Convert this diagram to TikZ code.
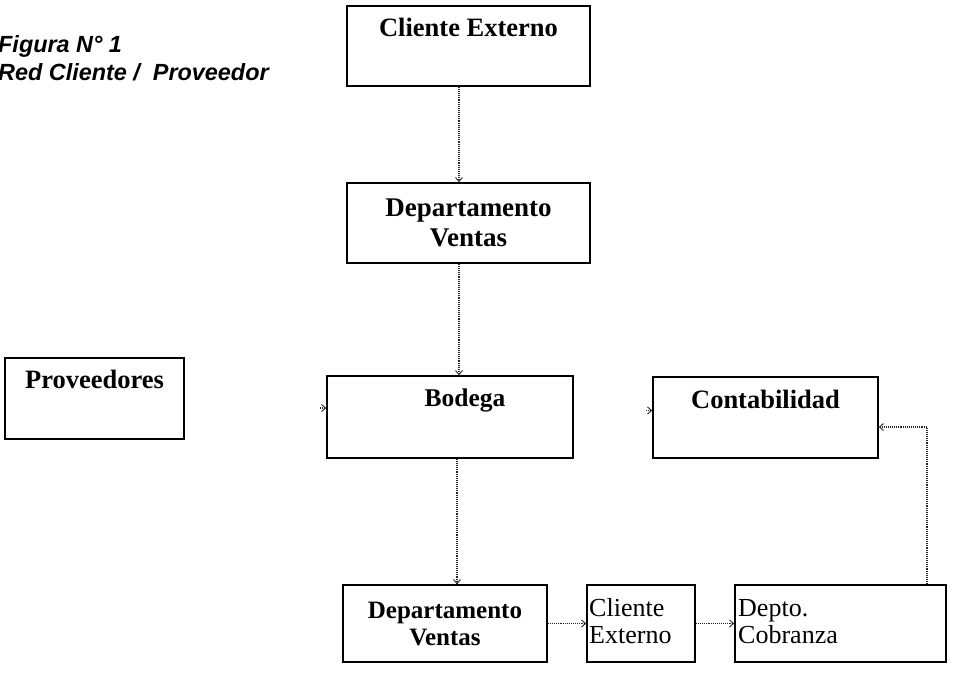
\documentclass[tikz,border=0pt]{standalone}
\usepackage{fontspec}
\setmainfont{Liberation Serif}
\newfontfamily\titlefont{Liberation Sans}
\usetikzlibrary{arrows.meta,calc}
\begin{document}
\begin{tikzpicture}[x=1pt,y=-1pt,
  box/.style={draw=black, line width=1.6pt, rectangle, inner sep=0pt},
  boxtxt/.style={font=\fontsize{26.5}{30}\selectfont\bfseries, align=center, inner sep=0pt, anchor=base},
  smalltxt/.style={font=\fontsize{26}{27}\selectfont, align=left, inner sep=0pt, anchor=base west},
  ttl/.style={font=\titlefont\fontsize{23.4}{28}\selectfont\bfseries\itshape, inner sep=0pt, anchor=base west},
  conn/.style={densely dotted, line width=1.1pt, draw=black!85, -{Straight Barb[length=4pt,width=7pt,line width=0.9pt]}}
]
\useasboundingbox (0,0) rectangle (953,673);
% title
\node[ttl] (t1) at (-2,52) {Figura N° 1};
\node[ttl] (t2) at (-2,80) {Red Cliente /\ \ Proveedor};
% boxes
\node[box, minimum width=243pt, minimum height=80pt] (ce1) at (468.5,46) {};
\node[boxtxt] (ce1t) at (468.5,36) {Cliente Externo};
\node[box, minimum width=243pt, minimum height=80pt, font=\fontsize{27}{30}\selectfont\bfseries, align=center] (dv1) at (468.5,223) {Departamento\\Ventas};
\node[box, minimum width=179pt, minimum height=81pt] (prov) at (94.5,398.5) {};
\node[boxtxt] (provt) at (94.5,388) {Proveedores};
\node[box, minimum width=246pt, minimum height=82pt] (bod) at (450,417) {};
\node[boxtxt, font=\fontsize{25.5}{28}\selectfont\bfseries] (bodt) at (465,406) {Bodega};
\node[box, minimum width=225pt, minimum height=81pt] (cont) at (765.5,417.5) {};
\node[boxtxt] (contt) at (765.5,408) {Contabilidad};
\node[box, minimum width=204pt, minimum height=77pt, font=\fontsize{25}{27}\selectfont\bfseries, align=center] (dv2) at (445,623.5) {Departamento\\Ventas};
\node[box, minimum width=108pt, minimum height=77pt] (cl2) at (641,623.5) {};
\node[smalltxt] (cl2t) at (589,616) {Cliente};
\node[smalltxt] (cl2u) at (589,643) {Externo};
\node[box, minimum width=211pt, minimum height=77pt] (dep) at (840.5,623.5) {};
\node[smalltxt] (dept) at (738,616) {Depto.};
\node[smalltxt] (depu) at (738,643) {Cobranza};
% connectors
\draw[conn] ([xshift=-9.5pt]ce1.south) -- ([xshift=-9.5pt]dv1.north);
\draw[conn] ([xshift=-9.5pt]dv1.south) -- ([xshift=-9.5pt]dv1.south |- bod.north);
\draw[conn] ([xshift=7pt]bod.south) -- ([xshift=7pt]bod.south |- dv2.north);
\draw[conn] (dv2.east) -- (cl2.west);
\draw[conn] (cl2.east) -- (dep.west);
\draw[conn] ([xshift=86.5pt]dep.north) |- ([yshift=-9.5pt]cont.east);
\coordinate (bodin) at ([xshift=-6pt,yshift=9pt]bod.west);
\draw[conn] (bodin) -- ([yshift=9pt]bod.west);
\coordinate (contin) at ([xshift=-6pt,yshift=7pt]cont.west);
\draw[conn] (contin) -- ([yshift=7pt]cont.west);
\end{tikzpicture}
\end{document}
